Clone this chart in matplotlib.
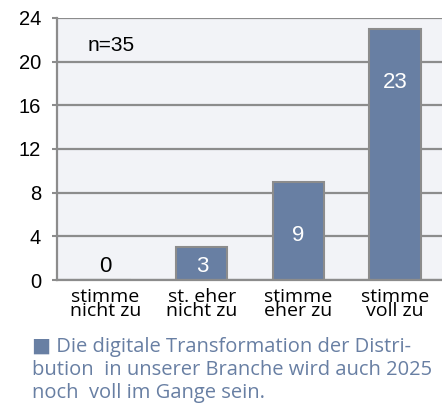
import numpy as np
import matplotlib.pyplot as plt

plt.rcParams["font.family"] = ["Liberation Sans", "DejaVu Sans"]

# data
categories = ["stimme\nnicht zu", "st. eher\nnicht zu", "stimme\neher zu", "stimme\nvoll zu"]
values = [0, 3, 9, 23]
y_ticks = [0, 4, 8, 12, 16, 20, 24]
caption = "\u25A0 Die digitale Transformation der Distri-\nbution  in unserer Branche wird auch 2025\nnoch  voll im Gange sein."

bar_color = "#687fa3"
grid_color = "#8c8c8c"
text_font = ["Open Sans", "DejaVu Sans"]

fig = plt.figure(figsize=(4.42, 4.09), dpi=100)
ax = fig.add_axes([0.129, 0.3154, 0.874, 0.6406])
ax.set_facecolor("#f2f3f7")

x = np.arange(len(values))
ax.set_axisbelow(True)
ax.yaxis.grid(True, color=grid_color, linewidth=1.6)
ax.bar(x, values, width=0.53, color=bar_color, edgecolor=grid_color, linewidth=1.5)

ax.set_xlim(-0.5, 3.5)
ax.set_ylim(0, 24)
ax.set_yticks(y_ticks)
ax.tick_params(axis="y", labelsize=14.5, length=3.6, width=1.5, color=grid_color, pad=8)
ax.set_xticks(x)
ax.set_xticklabels(categories, fontfamily=text_font, fontsize=14, linespacing=0.7)
ax.tick_params(axis="x", length=0, pad=6)

for s in ["top", "right"]:
    ax.spines[s].set_visible(False)
for s in ["left", "bottom"]:
    ax.spines[s].set_color(grid_color)
    ax.spines[s].set_linewidth(1.6)

# value labels
for xi, v in zip(x, values):
    ypos = max(v - 4.9, 1.25)
    col = "black" if v == 0 else "white"
    ax.text(xi, ypos, str(v), ha="center", va="center", fontsize=16, color=col)

ax.text(-0.18, 21.5, "n=35", ha="left", va="center", fontsize=15)

fig.text(0.072, 0.176, caption, ha="left", va="top", fontfamily=text_font,
         fontsize=14.5, color=bar_color, linespacing=1.19)

fig.savefig("out.png", dpi=100)
